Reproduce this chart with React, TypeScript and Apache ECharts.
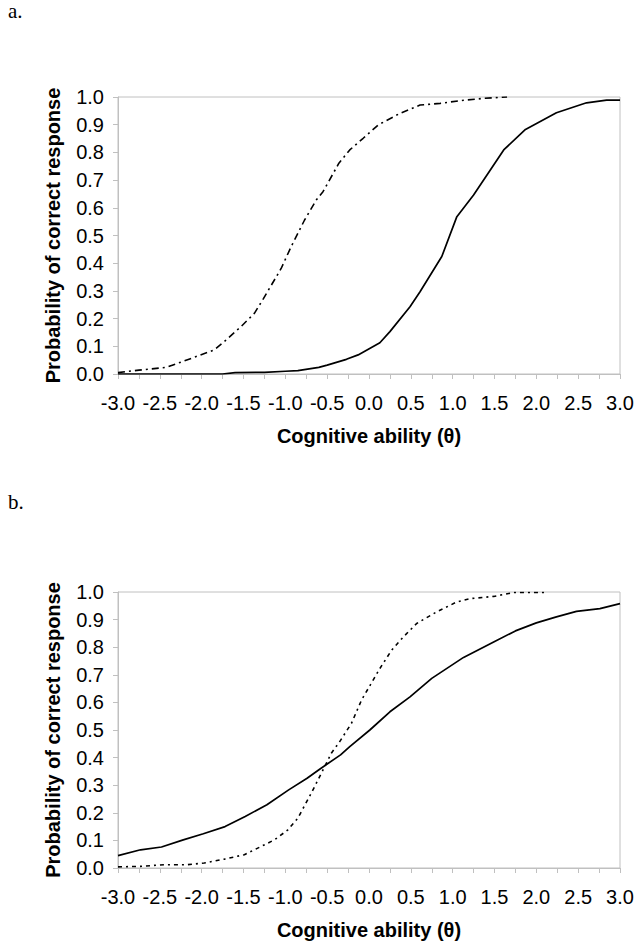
import React, { useEffect, useRef } from "react";
import * as echarts from "echarts";

// Panel a.
const aSolidX = [-3.0, -1.75, -1.6, -1.25, -1.0, -0.85, -0.6, -0.5, -0.27, -0.13, 0.13, 0.25, 0.49, 0.61, 0.87, 1.05, 1.25, 1.61, 1.87, 2.24, 2.6, 2.84, 3.0];
const aSolidY = [0.0, 0.0, 0.005, 0.006, 0.01, 0.012, 0.024, 0.032, 0.053, 0.069, 0.113, 0.153, 0.243, 0.297, 0.424, 0.568, 0.646, 0.809, 0.883, 0.943, 0.979, 0.989, 0.989];
const aDashX = [-3.0, -2.75, -2.42, -2.12, -1.85, -1.73, -1.53, -1.37, -1.26, -1.05, -0.93, -0.77, -0.63, -0.55, -0.36, -0.23, -0.07, 0.11, 0.37, 0.61, 0.85, 1.09, 1.37, 1.65];
const aDashY = [0.005, 0.014, 0.024, 0.057, 0.087, 0.117, 0.171, 0.219, 0.273, 0.381, 0.46, 0.556, 0.628, 0.658, 0.761, 0.809, 0.851, 0.899, 0.941, 0.971, 0.977, 0.987, 0.995, 1.0];

// Panel b.
const bSolidX = [-3.0, -2.73, -2.48, -2.22, -1.98, -1.72, -1.48, -1.22, -0.96, -0.74, -0.59, -0.34, -0.23, 0.01, 0.25, 0.49, 0.75, 1.13, 1.49, 1.75, 2.0, 2.24, 2.48, 2.76, 3.0];
const bSolidY = [0.045, 0.066, 0.076, 0.102, 0.124, 0.15, 0.187, 0.229, 0.283, 0.325, 0.358, 0.41, 0.44, 0.5, 0.566, 0.62, 0.687, 0.763, 0.819, 0.859, 0.888, 0.91, 0.93, 0.94, 0.958];
const bDashX = [-3.0, -2.73, -2.45, -2.17, -1.97, -1.73, -1.49, -1.29, -1.13, -0.97, -0.85, -0.69, -0.57, -0.45, -0.35, -0.21, -0.09, 0.13, 0.27, 0.41, 0.57, 0.81, 1.05, 1.21, 1.49, 1.73, 2.1];
const bDashY = [0.004, 0.006, 0.012, 0.012, 0.018, 0.032, 0.048, 0.078, 0.102, 0.138, 0.181, 0.271, 0.343, 0.416, 0.458, 0.524, 0.608, 0.723, 0.789, 0.837, 0.886, 0.928, 0.964, 0.976, 0.984, 0.998, 0.998];

const panelLabels = ["a.", "b."];
const xAxisTitle = "Cognitive ability (θ)";
const yAxisTitle = "Probability of correct response";

const pairs = (xs: number[], ys: number[]) => xs.map((x, i) => [x, ys[i]]);

const GRAY = "#c0c0c0";
const SANS = "'Liberation Sans', Arial, sans-serif";
const SERIF = "'Liberation Serif', 'Times New Roman', serif";

function xAxisFor(gridIndex: number) {
  return {
    type: "value",
    gridIndex,
    min: -3,
    max: 3,
    interval: 0.5,
    name: xAxisTitle,
    nameLocation: "middle",
    nameGap: 52,
    nameTextStyle: { fontFamily: SANS, fontSize: 20, fontWeight: "bold", color: "#000" },
    axisLine: { show: true, onZero: false, lineStyle: { color: GRAY, width: 1 } },
    axisTick: { show: true, length: 5, lineStyle: { color: GRAY } },
    minorTick: { show: true, splitNumber: 2, length: 5, lineStyle: { color: GRAY } },
    splitLine: { show: false },
    minorSplitLine: { show: false },
    axisLabel: {
      fontFamily: SANS,
      fontSize: 20,
      color: "#000",
      margin: 19,
      showMinLabel: true,
      showMaxLabel: true,
      formatter: (v: number) => v.toFixed(1),
    },
  };
}

function yAxisFor(gridIndex: number) {
  return {
    type: "value",
    gridIndex,
    min: 0,
    max: 1,
    interval: 0.1,
    name: yAxisTitle,
    nameLocation: "middle",
    nameRotate: 90,
    nameGap: 55,
    nameTextStyle: { fontFamily: SANS, fontSize: 20, fontWeight: "bold", color: "#000" },
    axisLine: { show: true, onZero: false, lineStyle: { color: GRAY, width: 1 } },
    axisTick: { show: true, length: 5, lineStyle: { color: GRAY } },
    splitLine: { show: false },
    axisLabel: {
      fontFamily: SANS,
      fontSize: 20,
      color: "#000",
      margin: 14,
      formatter: (v: number) => v.toFixed(1),
    },
  };
}

function lineSeries(idx: number, data: number[][], dash: number[] | null) {
  return {
    type: "line",
    xAxisIndex: idx,
    yAxisIndex: idx,
    data,
    showSymbol: false,
    symbol: "none",
    smooth: false,
    silent: true,
    lineStyle: {
      color: "#000",
      width: dash ? 1.6 : 1.7,
      type: dash ? dash : "solid",
    },
  };
}

export default function App() {
  const ref = useRef<HTMLDivElement>(null);
  useEffect(() => {
    if (!ref.current) return;
    const chart = echarts.init(ref.current, undefined, { renderer: "svg" });
    chart.setOption({
      animation: false,
      backgroundColor: "#fff",
      grid: [
        { left: 118, top: 97, width: 502, height: 277, show: true, borderColor: GRAY, borderWidth: 1, backgroundColor: "transparent" },
        { left: 118, top: 592, width: 502, height: 276, show: true, borderColor: GRAY, borderWidth: 1, backgroundColor: "transparent" },
      ],
      xAxis: [xAxisFor(0), xAxisFor(1)],
      yAxis: [yAxisFor(0), yAxisFor(1)],
      series: [
        lineSeries(0, pairs(aDashX, aDashY), [7, 4, 2, 4]),
        lineSeries(0, pairs(aSolidX, aSolidY), null),
        lineSeries(1, pairs(bDashX, bDashY), [4, 4, 2, 4]),
        lineSeries(1, pairs(bSolidX, bSolidY), null),
      ],
      graphic: [
        {
          type: "text",
          left: 8,
          top: 0,
          style: { text: panelLabels[0], fontFamily: SERIF, fontSize: 21, fill: "#000" },
        },
        {
          type: "text",
          left: 8,
          top: 491,
          style: { text: panelLabels[1], fontFamily: SERIF, fontSize: 21, fill: "#000" },
        },
      ],
    });
    return () => chart.dispose();
  }, []);
  return (
    <div
      ref={ref}
      style={{ position: "absolute", left: 0, top: 0, width: 639, height: 949, background: "#fff" }}
    />
  );
}
